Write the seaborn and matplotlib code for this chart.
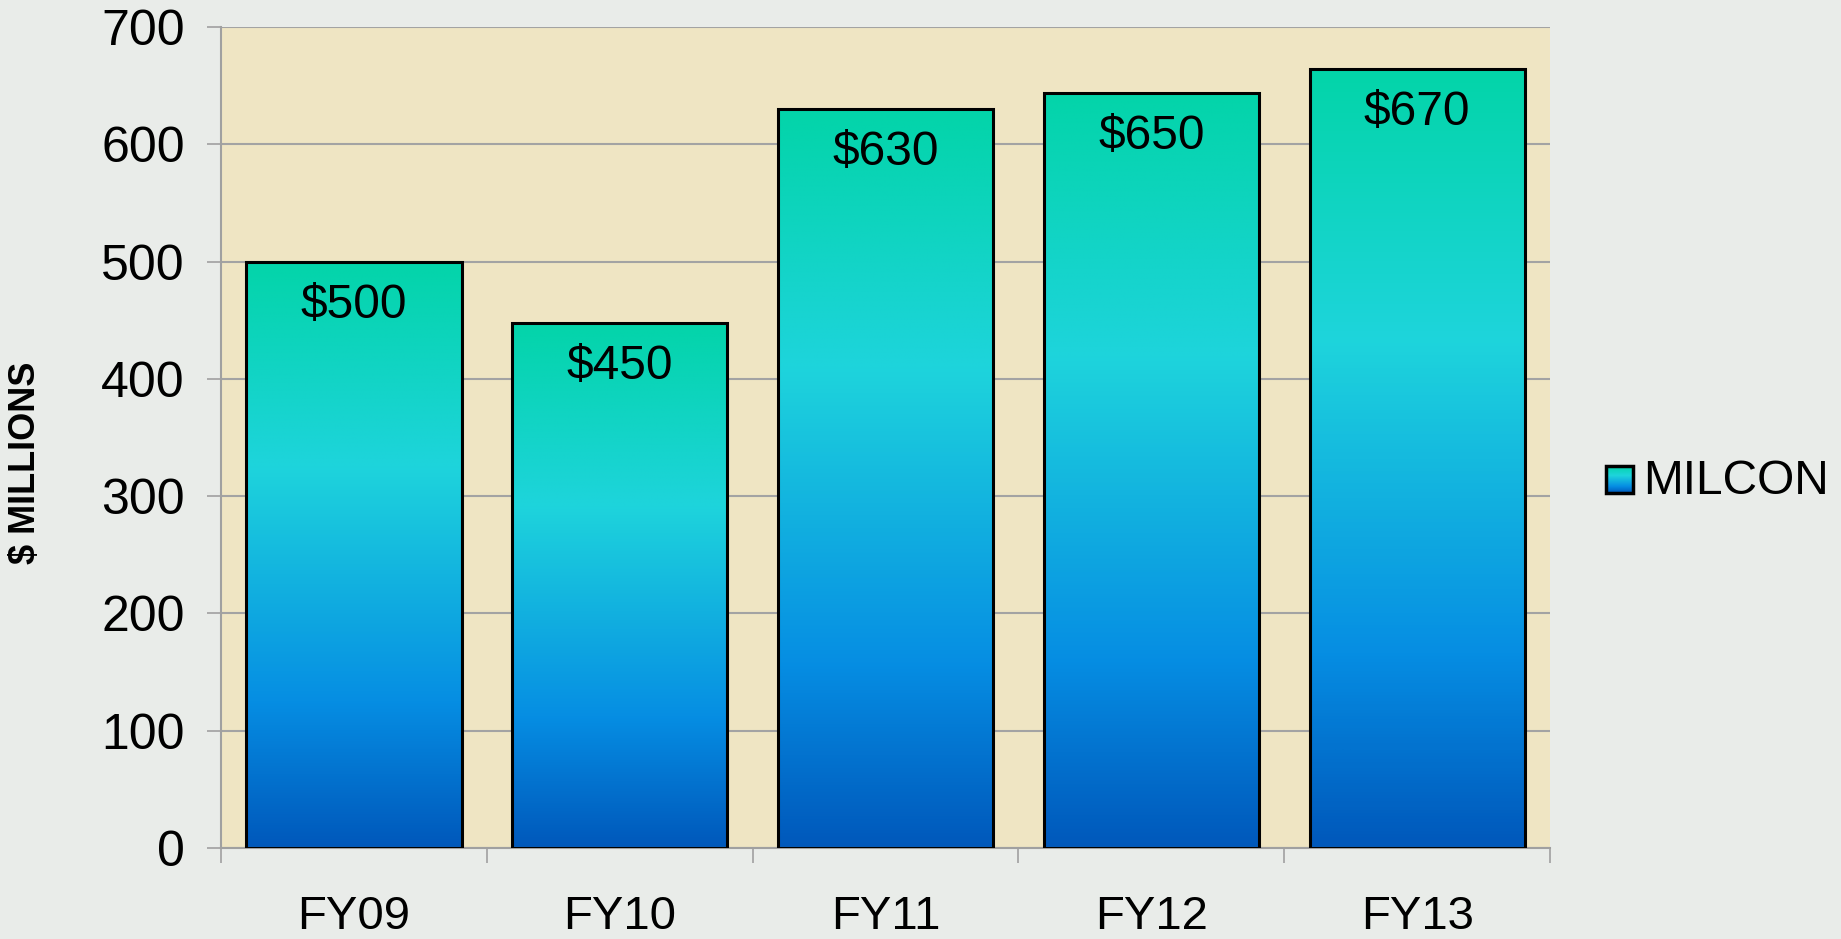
import numpy as np
import pandas as pd
import seaborn as sns
import matplotlib.pyplot as plt
from matplotlib.colors import LinearSegmentedColormap
from matplotlib.patches import Rectangle
from matplotlib.legend_handler import HandlerBase
from matplotlib.image import BboxImage
from matplotlib.transforms import Bbox, TransformedBbox

# Données
annees = ["FY09", "FY10", "FY11", "FY12", "FY13"]
montants = [500, 448, 630, 644, 664]
etiquettes = ["$500", "$450", "$630", "$650", "$670"]
serie = "MILCON"

degrade = LinearSegmentedColormap.from_list(
    "milcon", [(0.0, "#0058bb"), (0.25, "#068ee3"), (0.65, "#1ed4dc"), (1.0, "#03d4a9")])
grad = np.linspace(0, 1, 256).reshape(-1, 1)


class GradientHandler(HandlerBase):
    def create_artists(self, legend, orig_handle, xdescent, ydescent,
                       width, height, fontsize, trans):
        cote = height * 0.8
        x0, y0 = -xdescent + (width - cote), -ydescent + 0.03 * height
        bb = TransformedBbox(Bbox.from_bounds(x0, y0, cote, cote), trans)
        img = BboxImage(bb, cmap=degrade, origin="lower", interpolation="bilinear")
        img.set_data(grad)
        cadre = Rectangle((x0, y0), cote, cote, facecolor="none",
                          edgecolor="black", linewidth=2.5, transform=trans)
        return [img, cadre]


def main():
    sns.set_style("white")
    plt.rcParams["font.family"] = ["Liberation Sans", "DejaVu Sans"]
    plt.rcParams["text.color"] = "black"
    plt.rcParams["xtick.color"] = "black"
    plt.rcParams["ytick.color"] = "black"
    plt.rcParams["axes.labelcolor"] = "black"

    df = pd.DataFrame({"annee": annees, "montant": montants})

    fig = plt.figure(figsize=(18.41, 9.39), dpi=100, facecolor="#e9ece9")
    ax = fig.add_axes([0.120, 0.097, 0.722, 0.874])
    ax.set_facecolor("#efe5c3")

    sns.barplot(data=df, x="annee", y="montant", width=0.81, ax=ax,
                color="white", edgecolor="black", linewidth=2.2, zorder=3)

    # Dégradé dans chaque barre
    for patch in ax.patches:
        x, y = patch.get_x(), patch.get_y()
        w, h = patch.get_width(), patch.get_height()
        patch.set_facecolor("none")
        im = ax.imshow(grad, cmap=degrade, origin="lower", aspect="auto",
                       extent=(x, x + w, y, y + h), interpolation="bilinear", zorder=2.5)
        im.set_clip_path(patch)
    ax.set_xlim(-0.5, len(annees) - 0.5)
    ax.set_ylim(0, 700)
    ax.set_aspect("auto")

    for i, (val, txt) in enumerate(zip(montants, etiquettes)):
        ax.annotate(txt, (i, val), xytext=(0, -15), textcoords="offset points",
                    ha="center", va="top", fontsize=34.5, color="black", zorder=4)

    ax.yaxis.grid(True, color="#a3a3a3", linewidth=1.5, zorder=0)
    ax.set_axisbelow(True)
    ax.set_yticks(range(0, 701, 100))
    ax.tick_params(axis="y", labelsize=36, length=10, width=1.2, color="#a0a0a0",
                   labelcolor="black", pad=16, left=True, direction="out")

    ax.set_xticks(np.arange(-0.5, len(annees), 1.0))
    ax.set_xticklabels([])
    ax.set_xticks(range(len(annees)), minor=True)
    ax.set_xticklabels(annees, minor=True)
    ax.tick_params(axis="x", which="major", length=11, width=1.2, color="#a0a0a0",
                   bottom=True, direction="out")
    ax.tick_params(axis="x", which="minor", length=0, labelsize=34,
                   labelcolor="black", pad=34)

    for side in ["top", "right"]:
        ax.spines[side].set_visible(False)
    for side in ["left", "bottom"]:
        ax.spines[side].set_color("#a0a0a0")
        ax.spines[side].set_linewidth(1.5)

    ax.set_xlabel("")
    ax.set_ylabel("$ MILLIONS", fontsize=26, fontweight="bold", color="black")
    ax.yaxis.set_label_coords(-0.134, 0.469)

    poignee = Rectangle((0, 0), 1, 1)
    ax.legend([poignee], [serie], handler_map={Rectangle: GradientHandler()},
              loc="center left", bbox_to_anchor=(1.003, 0.447), frameon=False,
              fontsize=34.5, handlelength=0.75, handletextpad=0.2)

    fig.savefig("out.png", dpi=100, facecolor=fig.get_facecolor())


if __name__ == "__main__":
    main()
